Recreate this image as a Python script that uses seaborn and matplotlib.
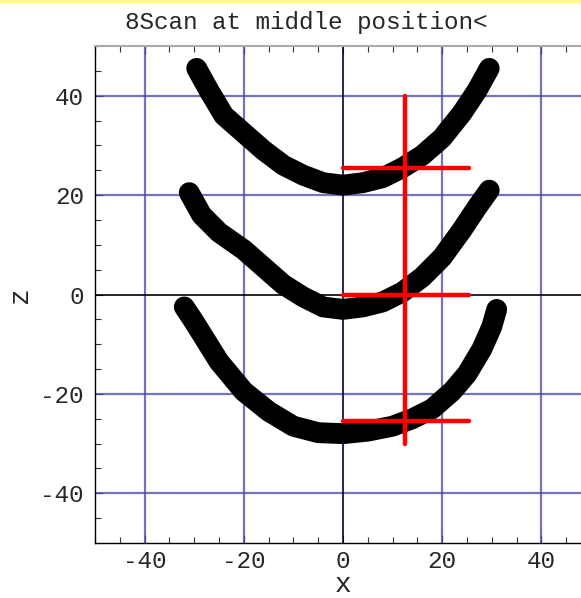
import matplotlib
matplotlib.use("Agg")
import matplotlib.pyplot as plt
import seaborn as sns
import pandas as pd
from matplotlib.patches import Rectangle
from matplotlib.ticker import MultipleLocator

# ---- data ----
top_x = [-29.5, -27, -24, -20, -16, -12, -8, -4, 0, 4, 8, 12, 16, 20, 24, 27, 29.5]
top_z = [45.5, 41, 36, 32.5, 29, 26, 24, 22.5, 22, 22.5, 23.5, 25.5, 28, 31.5, 36.5, 41, 45.5]

mid_x = [-31, -28.5, -25, -20, -16, -12, -8, -4, 0, 4, 8, 12, 16, 20, 24, 27, 29.5]
mid_z = [20.5, 16, 12.5, 9, 5.5, 2, -0.5, -2.5, -3, -2.5, -1.5, 0.5, 3.5, 7.5, 13, 17.5, 21]

bot_x = [-32, -30, -27.5, -25, -20, -15, -10, -5, 0, 5, 10, 14, 18, 22, 25, 28, 30, 31]
bot_z = [-2.5, -5.5, -9.5, -13.5, -19.5, -23.5, -26.5, -27.8, -28, -27.5, -26.5, -25, -23, -19.5, -16, -11, -6.5, -3]

red_v_x = [12.5, 12.5]
red_v_z = [40, -30]
red_h_x = [0, 25.5]
red_h_levels = [25.5, 0, -25.5]

xticks = [-40, -20, 0, 20, 40]
zticks = [-40, -20, 0, 20, 40]
title = "8Scan at middle position<"

# ---- build table ----
df = pd.concat([
    pd.DataFrame({"x": top_x, "z": top_z, "band": "top"}),
    pd.DataFrame({"x": mid_x, "z": mid_z, "band": "mid"}),
    pd.DataFrame({"x": bot_x, "z": bot_z, "band": "bot"}),
], ignore_index=True)

sns.set_theme(style="white")
plt.rcParams["font.family"] = ["Liberation Mono", "DejaVu Sans Mono"]
plt.rcParams["axes.unicode_minus"] = False

fig = plt.figure(figsize=(5.81, 5.98), dpi=100)
ax = fig.add_axes([95 / 581, 55 / 598, 486 / 581, 497 / 598])

ax.set_xlim(-50, 48)
ax.set_ylim(-50, 50)

# grid
for t in xticks:
    if t != 0:
        ax.axvline(t, color="#4545a8", lw=1.6, alpha=0.75, zorder=1)
for t in zticks:
    if t != 0:
        ax.axhline(t, color="#4545a8", lw=1.6, alpha=0.75, zorder=1)
ax.axvline(0, color="#000044", lw=1.2, zorder=1.5)
ax.axhline(0, color="black", lw=1.2, zorder=1.5)

# bands
sns.lineplot(data=df, x="x", y="z", hue="band", units="band", estimator=None,
             sort=False, palette={"top": "black", "mid": "black", "bot": "black"},
             linewidth=15, legend=False, ax=ax, zorder=3,
             solid_capstyle="round", solid_joinstyle="round")

# red markers
ax.plot(red_v_x, red_v_z, color="#ff0000", lw=3.2, solid_capstyle="round", zorder=5)
for lev in red_h_levels:
    ax.plot(red_h_x, [lev, lev], color="#ff0000", lw=3.2, solid_capstyle="round", zorder=5)

# ticks
ax.set_xticks(xticks)
ax.set_yticks(zticks)
ax.xaxis.set_minor_locator(MultipleLocator(5))
ax.yaxis.set_minor_locator(MultipleLocator(5))
ax.tick_params(axis="both", which="both", direction="in", top=True, bottom=True,
               left=True, right=False, color="#333333", width=0.8)
ax.tick_params(axis="both", which="major", length=6, labelsize=17.5, pad=8)
ax.tick_params(axis="both", which="minor", length=4)
ax.tick_params(axis="x", which="major", pad=5)

for sp in ["left", "bottom"]:
    ax.spines[sp].set_color("black")
    ax.spines[sp].set_linewidth(1.0)
ax.spines["top"].set_color("#aaaaaa")
ax.spines["top"].set_linewidth(1.5)
ax.spines["right"].set_visible(False)

ax.set_xlabel("x", fontsize=20, va="baseline")
ax.xaxis.set_label_coords(50 / 98, -(592 - 543) / 497)
ax.set_ylabel("z", fontsize=20, va="center")
ax.yaxis.set_label_coords((20 - 95) / 486, 0.5)
ax.set_title(title, fontsize=17.5, pad=12, x=(306 - 95) / 486)

fig.patches.append(Rectangle((0, 1 - 3 / 598), 1, 3 / 598, transform=fig.transFigure,
                             facecolor="#ffff80", edgecolor="none", zorder=10))

fig.savefig("out.png", dpi=100)
